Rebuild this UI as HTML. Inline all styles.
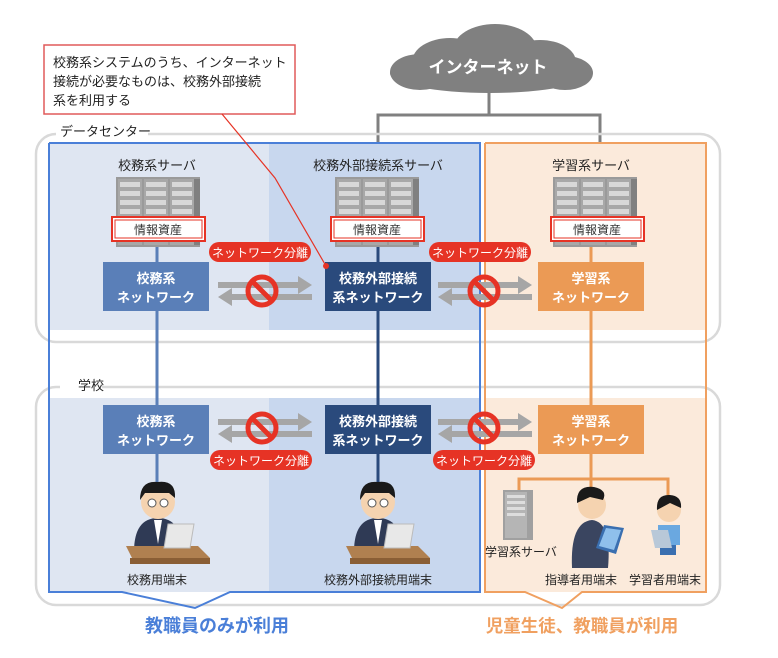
<!DOCTYPE html>
<html><head><meta charset="utf-8"><style>
html,body{margin:0;padding:0;background:#fff;}
svg{display:block;font-family:"Liberation Sans","Noto Sans CJK JP",sans-serif;}
</style></head><body>
<svg width="778" height="658" viewBox="0 0 778 658" xmlns="http://www.w3.org/2000/svg">
<defs>
<g id="srv">
 <rect x="0" y="0" width="84" height="70" fill="#9a9a9a"/>
 <rect x="2" y="2" width="24" height="66" fill="#a8a8a8"/>
 <rect x="28" y="2" width="24" height="66" fill="#a8a8a8"/>
 <rect x="54" y="2" width="24" height="66" fill="#a8a8a8"/>
 <rect x="78" y="2" width="6" height="66" fill="#808080"/>
 <g fill="#d8d8d8">
  <rect x="4" y="5" width="20" height="5"/><rect x="30" y="5" width="20" height="5"/><rect x="56" y="5" width="20" height="5"/>
  <rect x="4" y="14" width="20" height="5"/><rect x="30" y="14" width="20" height="5"/><rect x="56" y="14" width="20" height="5"/>
  <rect x="4" y="23" width="20" height="5"/><rect x="30" y="23" width="20" height="5"/><rect x="56" y="23" width="20" height="5"/>
  <rect x="4" y="32" width="20" height="5"/><rect x="30" y="32" width="20" height="5"/><rect x="56" y="32" width="20" height="5"/>
 </g>
</g>
<g id="ban">
 <circle cx="0" cy="0" r="14" fill="none" stroke="#e63325" stroke-width="5"/>
 <line x1="-10" y1="-10" x2="10" y2="10" stroke="#e63325" stroke-width="5"/>
</g>
<g id="arr">
 <polygon points="0,-9 80,-9 80,-15 94,-6 80,3 80,-3 0,-3" fill="#a6a6a6"/>
 <polygon points="94,3 14,3 14,-3 0,6 14,15 14,9 94,9" fill="#a6a6a6"/>
</g>
<g id="person">
 <path d="M-24,40 Q-24,6 0,6 Q24,6 24,40 Z" fill="#2f3a55"/>
 <polygon points="-4,8 4,8 0,32" fill="#fff"/>
 <circle cx="0" cy="-10" r="17" fill="#f5d3b0"/>
 <path d="M-18,-12 Q-18,-32 0,-30 Q18,-32 17,-14 L11,-19 L-13,-19 Z" fill="#1a1a1a"/>
 <circle cx="-6" cy="-9" r="4" fill="#fff" stroke="#555" stroke-width="1"/>
 <circle cx="6" cy="-9" r="4" fill="#fff" stroke="#555" stroke-width="1"/>
 <path d="M-32,34 L40,34 L52,46 L-26,46 Z" fill="#b08050"/>
 <rect x="-28" y="46" width="80" height="6" fill="#8a5e35"/>
 <polygon points="10,12 36,12 32,36 6,36" fill="#e8e8e8" stroke="#bbb"/>
</g>
</defs>

<rect x="44" y="45" width="251" height="69" fill="#fff" stroke="#e05a5a" stroke-width="1.5"/>
<text x="53" y="67" font-size="13" fill="#222">校務系システムのうち、インターネット</text>
<text x="53" y="86" font-size="13" fill="#222">接続が必要なものは、校務外部接続</text>
<text x="53" y="105" font-size="13" fill="#222">系を利用する</text>

<g fill="#808080">
 <ellipse cx="490" cy="73" rx="100" ry="20"/>
 <ellipse cx="450" cy="62" rx="38" ry="24"/>
 <ellipse cx="495" cy="50" rx="42" ry="26"/>
 <ellipse cx="540" cy="62" rx="36" ry="22"/>
 <ellipse cx="420" cy="72" rx="30" ry="18"/>
 <ellipse cx="565" cy="73" rx="28" ry="17"/>
</g>
<text x="488" y="73" font-size="17" font-weight="bold" fill="#fff" text-anchor="middle">インターネット</text>
<polyline points="489,92 489,115" fill="none" stroke="#808080" stroke-width="3"/>
<polyline points="378,143 378,115 600,115 600,143" fill="none" stroke="#808080" stroke-width="3"/>

<rect x="49" y="143" width="220" height="187" fill="#dfe6f2"/>
<rect x="269" y="143" width="211" height="187" fill="#c8d7ee"/>
<rect x="485" y="143" width="221" height="187" fill="#fbeadb"/>
<rect x="49" y="398" width="220" height="194" fill="#dfe6f2"/>
<rect x="269" y="398" width="211" height="194" fill="#c8d7ee"/>
<rect x="485" y="398" width="221" height="194" fill="#fbeadb"/>

<rect x="36" y="134" width="684" height="208" rx="20" fill="none" stroke="#d9d9d9" stroke-width="2.5"/>
<rect x="56" y="124" width="92" height="16" fill="#fff"/>
<text x="60" y="136" font-size="13" fill="#222">データセンター</text>
<rect x="36" y="387" width="684" height="218" rx="20" fill="none" stroke="#d9d9d9" stroke-width="2.5"/>
<rect x="60" y="377" width="42" height="18" fill="#fff"/>
<text x="78" y="390" font-size="13" fill="#222">学校</text>

<polyline points="49,143 480,143 480,592 230,592 195,608 122,592 49,592 49,143" fill="none" stroke="#4a7fd8" stroke-width="2"/>
<polyline points="485,143 706,143 706,592 582,592 562,608 525,592 485,592 485,143" fill="none" stroke="#f0a060" stroke-width="2"/>

<line x1="157" y1="240" x2="157" y2="500" stroke="#5a7fb8" stroke-width="3"/>
<line x1="378" y1="240" x2="378" y2="500" stroke="#2a4a7c" stroke-width="3"/>
<line x1="591" y1="240" x2="591" y2="500" stroke="#eb9a55" stroke-width="3"/>
<polyline points="519,500 519,479 668,479 668,500" fill="none" stroke="#eb9a55" stroke-width="3"/>

<text x="157" y="170" font-size="13" fill="#222" text-anchor="middle">校務系サーバ</text>
<text x="378" y="170" font-size="13" fill="#222" text-anchor="middle">校務外部接続系サーバ</text>
<text x="591" y="170" font-size="13" fill="#222" text-anchor="middle">学習系サーバ</text>

<use href="#srv" x="116" y="177"/>
<use href="#srv" x="335" y="177"/>
<use href="#srv" x="553" y="177"/>
<g>
 <rect x="112" y="217" width="93" height="24" fill="#fff" stroke="#e63325" stroke-width="2"/>
 <rect x="115" y="220" width="87" height="18" fill="#fff" stroke="#e63325" stroke-width="1"/>
 <text x="158" y="234" font-size="12" fill="#333" text-anchor="middle">情報資産</text>
 <rect x="331" y="217" width="93" height="24" fill="#fff" stroke="#e63325" stroke-width="2"/>
 <rect x="334" y="220" width="87" height="18" fill="#fff" stroke="#e63325" stroke-width="1"/>
 <text x="377" y="234" font-size="12" fill="#333" text-anchor="middle">情報資産</text>
 <rect x="551" y="217" width="93" height="24" fill="#fff" stroke="#e63325" stroke-width="2"/>
 <rect x="554" y="220" width="87" height="18" fill="#fff" stroke="#e63325" stroke-width="1"/>
 <text x="597" y="234" font-size="12" fill="#333" text-anchor="middle">情報資産</text>
</g>

<rect x="103" y="262" width="106" height="49" fill="#5a7fb8"/>
<text x="156" y="283" font-size="13" font-weight="bold" fill="#fff" text-anchor="middle">校務系</text>
<text x="156" y="302" font-size="13" font-weight="bold" fill="#fff" text-anchor="middle">ネットワーク</text>
<rect x="325" y="262" width="106" height="49" fill="#2a4a7c"/>
<text x="378" y="283" font-size="13" font-weight="bold" fill="#fff" text-anchor="middle">校務外部接続</text>
<text x="378" y="302" font-size="13" font-weight="bold" fill="#fff" text-anchor="middle">系ネットワーク</text>
<rect x="538" y="262" width="106" height="49" fill="#eb9a55"/>
<text x="591" y="283" font-size="13" font-weight="bold" fill="#fff" text-anchor="middle">学習系</text>
<text x="591" y="302" font-size="13" font-weight="bold" fill="#fff" text-anchor="middle">ネットワーク</text>

<rect x="103" y="405" width="106" height="49" fill="#5a7fb8"/>
<text x="156" y="426" font-size="13" font-weight="bold" fill="#fff" text-anchor="middle">校務系</text>
<text x="156" y="445" font-size="13" font-weight="bold" fill="#fff" text-anchor="middle">ネットワーク</text>
<rect x="325" y="405" width="106" height="49" fill="#2a4a7c"/>
<text x="378" y="426" font-size="13" font-weight="bold" fill="#fff" text-anchor="middle">校務外部接続</text>
<text x="378" y="445" font-size="13" font-weight="bold" fill="#fff" text-anchor="middle">系ネットワーク</text>
<rect x="538" y="405" width="106" height="49" fill="#eb9a55"/>
<text x="591" y="426" font-size="13" font-weight="bold" fill="#fff" text-anchor="middle">学習系</text>
<text x="591" y="445" font-size="13" font-weight="bold" fill="#fff" text-anchor="middle">ネットワーク</text>

<use href="#arr" x="218" y="291"/>
<use href="#arr" x="438" y="291"/>
<use href="#arr" x="218" y="428"/>
<use href="#arr" x="438" y="428"/>
<use href="#ban" x="262" y="291"/>
<use href="#ban" x="484" y="291"/>
<use href="#ban" x="262" y="428"/>
<use href="#ban" x="484" y="428"/>

<rect x="209" y="242" width="102" height="20" rx="10" fill="#e63325"/>
<text x="260" y="257" font-size="12" fill="#fff" text-anchor="middle">ネットワーク分離</text>
<rect x="429" y="242" width="102" height="20" rx="10" fill="#e63325"/>
<text x="480" y="257" font-size="12" fill="#fff" text-anchor="middle">ネットワーク分離</text>
<rect x="210" y="450" width="102" height="20" rx="10" fill="#e63325"/>
<text x="261" y="465" font-size="12" fill="#fff" text-anchor="middle">ネットワーク分離</text>
<rect x="433" y="450" width="102" height="20" rx="10" fill="#e63325"/>
<text x="484" y="465" font-size="12" fill="#fff" text-anchor="middle">ネットワーク分離</text>

<polyline points="222,114 275,178 326,266" fill="none" stroke="#e63325" stroke-width="1.2"/>
<circle cx="326" cy="266" r="3" fill="#e63325"/>

<use href="#person" x="158" y="512"/>
<use href="#person" x="378" y="512"/>

<g>
 <rect x="503" y="490" width="30" height="50" fill="#a0a0a0"/>
 <rect x="505" y="492" width="22" height="46" fill="#b5b5b5"/>
 <g fill="#ddd"><rect x="507" y="495" width="18" height="3"/><rect x="507" y="501" width="18" height="3"/><rect x="507" y="507" width="18" height="3"/><rect x="507" y="513" width="18" height="3"/></g>
 <path d="M572,568 Q570,522 592,520 Q612,522 608,568 Z" fill="#3a4560"/>
 <circle cx="592" cy="505" r="14" fill="#f5d3b0"/>
 <path d="M577,503 Q576,485 594,487 Q608,490 603,500 L590,497 Z" fill="#1a1a1a"/>
 <polygon points="604,525 624,528 616,554 596,548" fill="#3a6fb0"/>
 <polygon points="606,528 621,530 614,550 599,546" fill="#8fc0ec"/>
 <rect x="658" y="525" width="22" height="20" fill="#6aa8e0"/>
 <rect x="660" y="545" width="16" height="10" fill="#3a6fb0"/>
 <circle cx="669" cy="510" r="12" fill="#f5d3b0"/>
 <path d="M657,510 Q656,494 670,495 Q682,496 681,508 L670,503 Z" fill="#1a1a1a"/>
 <polygon points="651,530 668,530 672,548 655,548" fill="#b8c8d8"/>
</g>

<text x="157" y="584" font-size="12" fill="#222" text-anchor="middle">校務用端末</text>
<text x="378" y="584" font-size="12" fill="#222" text-anchor="middle">校務外部接続用端末</text>
<text x="485" y="556" font-size="12" fill="#222">学習系サーバ</text>
<text x="581" y="584" font-size="12" fill="#222" text-anchor="middle">指導者用端末</text>
<text x="665" y="584" font-size="12" fill="#222" text-anchor="middle">学習者用端末</text>

<text x="217" y="632" font-size="18" font-weight="bold" fill="#4a7fd8" text-anchor="middle">教職員のみが利用</text>
<text x="582" y="632" font-size="17.5" font-weight="bold" fill="#f0a060" text-anchor="middle">児童生徒、教職員が利用</text>
</svg>
</body></html>
